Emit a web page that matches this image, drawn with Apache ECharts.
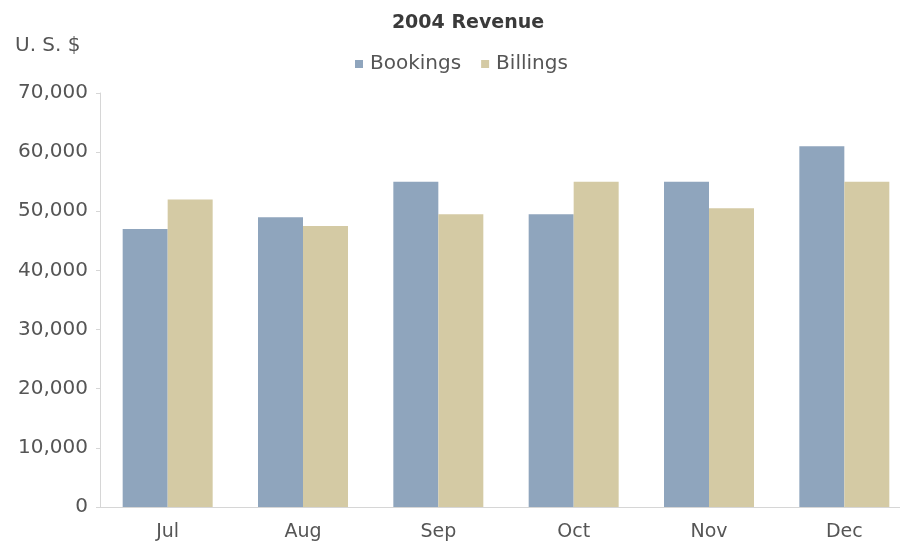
<!DOCTYPE html>
<html>
<head>
<meta charset="utf-8">
<style>
  html, body { margin: 0; padding: 0; background: #ffffff; overflow: hidden; }
  /* the canvas is a little wider than the window; its right edge is cut off */
  #chart { width: 912px; height: 550px; }
</style>
<script src="https://cdn.jsdelivr.net/npm/echarts@6/dist/echarts.min.js"></script>
</head>
<body>
<div id="chart"></div>
<script>
// Monthly revenue, second half of 2004 (U.S. $)
const months = ['Jul', 'Aug', 'Sep', 'Oct', 'Nov', 'Dec'];
const bookings = [47000, 49000, 55000, 49500, 55000, 61000];
const billings = [52000, 47500, 49500, 55000, 50500, 55000];
const yTicks = [0, 10000, 20000, 30000, 40000, 50000, 60000, 70000];

const FONT = 'DejaVu Sans';
const chart = echarts.init(document.getElementById('chart'), null, { renderer: 'canvas' });

chart.setOption({
  animation: false,
  backgroundColor: '#ffffff',
  textStyle: { fontFamily: FONT },
  title: {
    text: '2004 Revenue',
    left: 463,
    top: 9,
    textAlign: 'center',
    textStyle: { fontFamily: FONT, fontSize: 19, fontWeight: 'bold', color: '#3a3a3a' }
  },
  graphic: [{
    type: 'text',
    left: 15,
    top: 36,
    style: { text: 'U. S. $', fontFamily: FONT, fontSize: 20, fill: '#555555' }
  }],
  legend: {
    left: 350,
    top: 49,
    itemWidth: 8,
    itemHeight: 8,
    itemGap: 20,
    icon: 'rect',
    textStyle: { fontFamily: FONT, fontSize: 20, color: '#555555', padding: [0, 0, 0, 2] },
    data: ['Bookings', 'Billings']
  },
  grid: { left: 100, top: 93, right: 0, height: 414, containLabel: false },
  xAxis: {
    type: 'category',
    data: months,
    axisLine: { show: true, lineStyle: { color: '#d6d6d6', width: 1 } },
    axisTick: { show: false },
    axisLabel: { fontFamily: FONT, fontSize: 19, color: '#555555', margin: 16 }
  },
  yAxis: {
    type: 'value',
    min: yTicks[0],
    max: yTicks[yTicks.length - 1],
    interval: yTicks[1] - yTicks[0],
    axisLine: { show: true, lineStyle: { color: '#d6d6d6', width: 1 } },
    axisTick: { show: true, length: 4, lineStyle: { color: '#d6d6d6' } },
    splitLine: { show: false },
    axisLabel: {
      fontFamily: FONT, fontSize: 20, color: '#555555', margin: 12,
      formatter: v => v.toLocaleString('en-US')
    }
  },
  series: [
    {
      name: 'Bookings',
      type: 'bar',
      data: bookings,
      barGap: '0%',
      barCategoryGap: '33.5%',
      itemStyle: { color: '#8fa5bd' }
    },
    {
      name: 'Billings',
      type: 'bar',
      data: billings,
      itemStyle: { color: '#d4caa4' }
    }
  ]
});
</script>
</body>
</html>
